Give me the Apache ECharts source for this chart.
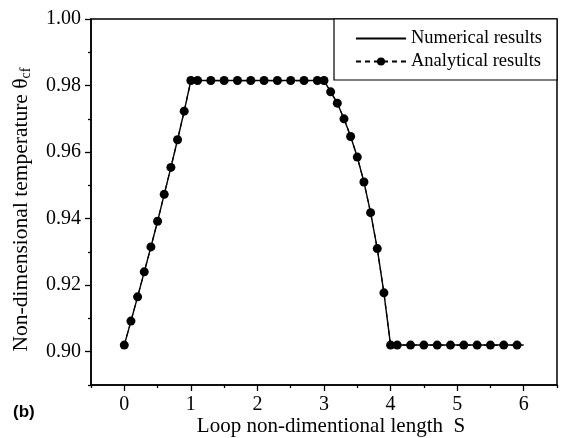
<!DOCTYPE html>
<html>
<head>
<meta charset="utf-8">
<script src="https://cdn.jsdelivr.net/npm/echarts@6/dist/echarts.min.js"></script>
<style>
html,body{margin:0;padding:0;background:#fff;}
#chart{width:561px;height:438px;}
</style>
</head>
<body>
<div id="chart"></div>
<script>
// ---- data ----
const analyticalS = [0, 0.1, 0.2, 0.3, 0.4, 0.5, 0.6, 0.7, 0.8, 0.9, 1.0,
  1.1, 1.3, 1.5, 1.7, 1.9, 2.1, 2.3, 2.5, 2.7, 2.9,
  3.0, 3.1, 3.2, 3.3, 3.4, 3.5, 3.6, 3.7, 3.8, 3.9, 4.0,
  4.1, 4.3, 4.5, 4.7, 4.9, 5.1, 5.3, 5.5, 5.7, 5.9];
const analyticalTheta = [0.902, 0.9092, 0.9165, 0.924, 0.9315, 0.9392, 0.9473, 0.9554, 0.9637, 0.9723, 0.9815,
  0.9815, 0.9815, 0.9815, 0.9815, 0.9815, 0.9815, 0.9815, 0.9815, 0.9815, 0.9815,
  0.9815, 0.9781, 0.9747, 0.9700, 0.9647, 0.9585, 0.9510, 0.9418, 0.9310, 0.9177, 0.902,
  0.902, 0.902, 0.902, 0.902, 0.902, 0.902, 0.902, 0.902, 0.902, 0.902];
const numericalS = [0, 0.1, 0.2, 0.3, 0.4, 0.5, 0.6, 0.7, 0.8, 0.9, 1.0,
  3.0, 3.1, 3.2, 3.3, 3.4, 3.5, 3.6, 3.7, 3.8, 3.9, 4.0, 6.0];
const numericalTheta = [0.902, 0.9092, 0.9165, 0.924, 0.9315, 0.9392, 0.9473, 0.9554, 0.9637, 0.9723, 0.9815,
  0.9815, 0.9781, 0.9747, 0.9700, 0.9647, 0.9585, 0.9510, 0.9418, 0.9310, 0.9177, 0.902, 0.902];
const xMajorTicks = [0, 1, 2, 3, 4, 5, 6];
const xMinorTicks = [-0.5, 0.5, 1.5, 2.5, 3.5, 4.5, 5.5, 6.5];
const yMajorTicks = [0.90, 0.92, 0.94, 0.96, 0.98, 1.00];
const yMinorTicks = [0.89, 0.91, 0.93, 0.95, 0.97, 0.99];
const seriesNames = ['Numerical results', 'Analytical results'];

const serif = '"Liberation Serif", "Times New Roman", serif';
const chart = echarts.init(document.getElementById('chart'), null, {renderer: 'canvas'});

const pair = (xs, ys) => xs.map((x, i) => [x, ys[i]]);
const clear = 'rgba(0,0,0,0)';

chart.setOption({
  animation: false,
  backgroundColor: '#fff',
  title: {
    text: '(b)', left: 8, top: 399,
    textStyle: {fontFamily: '"Liberation Sans", Arial, sans-serif', fontWeight: 'bold', fontSize: 17, color: '#000'}
  },
  grid: {left: 91, right: 4, top: 19, bottom: 53, outerBoundsMode: 'none', containLabel: false,
    show: true, borderColor: '#000', borderWidth: 1.5, backgroundColor: 'transparent'},
  legend: {
    orient: 'vertical', right: 4, top: 19,
    itemWidth: 50, itemHeight: 10, itemGap: 4,
    padding: [10, 15, 9, 21],
    borderColor: '#000', borderWidth: 1.2, backgroundColor: '#fff',
    textStyle: {fontFamily: serif, fontSize: 18.5, color: '#000'},
    data: [
      {name: seriesNames[0], itemStyle: {color: clear, borderColor: clear, borderWidth: 0}},
      {name: seriesNames[1]}
    ]
  },
  xAxis: [{
    type: 'value', min: -0.5, max: 6.5,
    name: 'Loop non-dimentional length  S', nameLocation: 'middle', nameGap: 31, nameMoveOverlap: false,
    nameTextStyle: {fontFamily: serif, fontSize: 21, color: '#000', padding: [0, 0, 0, 14]},
    axisLine: {show: true, onZero: false, lineStyle: {color: '#000', width: 1.5}},
    axisTick: {show: true, inside: false, length: 6, customValues: xMajorTicks, lineStyle: {color: '#000', width: 1.3}},
    axisLabel: {show: true, margin: 10, customValues: xMajorTicks, fontFamily: serif, fontSize: 20, color: '#000'},
    splitLine: {show: false}
  }, {
    type: 'value', min: -0.5, max: 6.5, position: 'bottom',
    axisLine: {show: false, onZero: false},
    axisTick: {show: true, inside: false, length: 3, customValues: xMinorTicks, lineStyle: {color: '#000', width: 1.3}},
    axisLabel: {show: false},
    splitLine: {show: false}
  }],
  yAxis: [{
    type: 'value', min: 0.89, max: 1.0,
    name: 'Non-dimensional temperature {t|θ}{s|cf}', nameLocation: 'middle', nameGap: 58, nameRotate: 90, nameMoveOverlap: false,
    nameTextStyle: {fontFamily: serif, fontSize: 21.5, color: '#000', padding: [0, 15, 0, 0],
      rich: {
        t: {fontFamily: serif, fontSize: 21.5, color: '#000'},
        s: {fontFamily: serif, fontSize: 14, color: '#000', verticalAlign: 'bottom', padding: [9, 0, 0, 0]}
      }},
    axisLine: {show: true, onZero: false, lineStyle: {color: '#000', width: 1.5}},
    axisTick: {show: true, inside: false, length: 6, customValues: yMajorTicks, lineStyle: {color: '#000', width: 1.3}},
    axisLabel: {show: true, margin: 10, customValues: yMajorTicks, fontFamily: serif, fontSize: 20, color: '#000',
      formatter: v => v.toFixed(2)},
    splitLine: {show: false}
  }, {
    type: 'value', min: 0.89, max: 1.0, position: 'left',
    axisLine: {show: false, onZero: false},
    axisTick: {show: true, inside: false, length: 3, customValues: yMinorTicks, lineStyle: {color: '#000', width: 1.3}},
    axisLabel: {show: false},
    splitLine: {show: false}
  }],
  series: [{
    name: seriesNames[0], type: 'line', xAxisIndex: 0, yAxisIndex: 0,
    data: pair(numericalS, numericalTheta),
    showSymbol: false, symbol: 'none',
    lineStyle: {color: '#000', width: 1.4, type: 'solid'},
    itemStyle: {color: '#000'}
  }, {
    name: seriesNames[1], type: 'line', xAxisIndex: 0, yAxisIndex: 0,
    data: pair(analyticalS, analyticalTheta),
    symbol: 'circle', symbolSize: 9, showAllSymbol: true,
    lineStyle: {color: '#000', width: 1.2, type: [5, 4]},
    itemStyle: {color: '#000'}
  }]
});
</script>
</body>
</html>
